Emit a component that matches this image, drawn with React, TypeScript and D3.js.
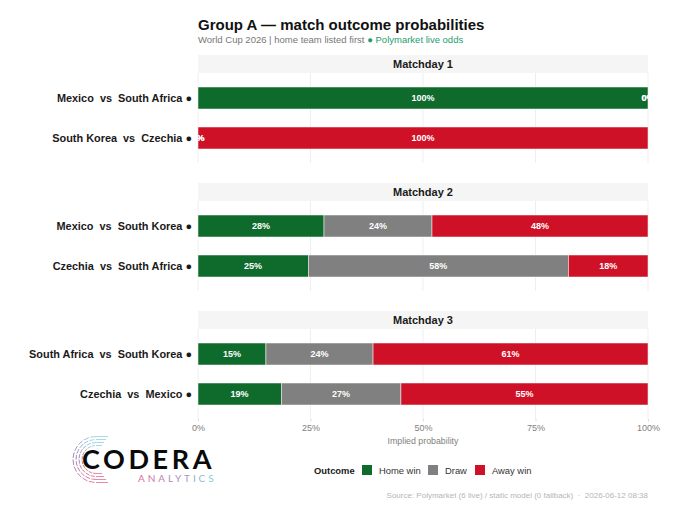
import React, { useEffect, useRef } from 'react';
import * as d3 from 'd3';

const FONT = '"Liberation Sans", Arial, sans-serif';

const matchdays = ['Matchday 1', 'Matchday 2', 'Matchday 3'];
const matches = [
  ['Mexico  vs  South Africa ●', 'South Korea  vs  Czechia ●'],
  ['Mexico  vs  South Korea ●', 'Czechia  vs  South Africa ●'],
  ['South Africa  vs  South Korea ●', 'Czechia  vs  Mexico ●'],
];
const homeWin = [[1, 0], [0.28, 0.245], [0.151, 0.185]];
const draw = [[0, 0], [0.24, 0.578], [0.238, 0.266]];
const awayWin = [[0, 1], [0.48, 0.177], [0.611, 0.549]];
const outcomes = ['Home win', 'Draw', 'Away win'];
const outcomeColors = ['#0f6b2c', '#808080', '#ce1126'];
const xTicks = [0, 0.25, 0.5, 0.75, 1];

const App: React.FC = () => {
  const svgRef = useRef<SVGSVGElement>(null);

  useEffect(() => {
    const svg = d3.select(svgRef.current);
    svg.selectAll('*').remove();
    svg.style('font-family', FONT);

    const left = 198;
    const right = 648;
    const stripH = 18;
    const panelH = 90;
    const panelTops = [73, 201, 329];

    const xScale = d3.scaleLinear().domain([0, 1]).range([left, right]);
    const colorScale = d3.scaleOrdinal<string, string>().domain(outcomes).range(outcomeColors);

    // Title
    svg.append('text').attr('x', left).attr('y', 30)
      .style('font-size', '15px').style('font-weight', 700).style('fill', '#111')
      .text('Group A — match outcome probabilities');
    const sub = svg.append('text').attr('x', left).attr('y', 43).style('font-size', '9.5px');
    sub.append('tspan').style('fill', '#777').text('World Cup 2026 | home team listed first ');
    sub.append('tspan').style('fill', '#1f9d6e').text('● Polymarket live odds');

    const defs = svg.append('defs');
    defs.append('clipPath').attr('id', 'panel-clip').append('rect')
      .attr('x', left).attr('y', 0).attr('width', right - left).attr('height', panelH);

    // Panels
    matchdays.forEach((day, p) => {
      const top = panelTops[p];
      svg.append('rect').attr('x', left).attr('y', top - stripH)
        .attr('width', right - left).attr('height', stripH).attr('fill', '#f5f5f5');
      svg.append('text').attr('x', (left + right) / 2).attr('y', top - 5)
        .attr('text-anchor', 'middle')
        .style('font-size', '11px').style('font-weight', 700).style('fill', '#1a1a1a')
        .text(day);

      const g = svg.append('g').attr('transform', `translate(0,${top})`);
      xTicks.forEach(t => {
        g.append('line').attr('x1', xScale(t)).attr('x2', xScale(t))
          .attr('y1', 0).attr('y2', panelH)
          .attr('stroke', '#ebebeb').attr('stroke-width', 0.8);
      });

      const yScale = d3.scaleBand<string>().domain(matches[p]).range([0, panelH])
        .paddingInner(0.45).paddingOuter(0.35);

      matches[p].forEach((name, i) => {
        const y = yScale(name) as number;
        const h = yScale.bandwidth();
        g.append('text').attr('x', left - 6).attr('y', y + h / 2 + 4)
          .attr('text-anchor', 'end')
          .style('white-space', 'pre')
          .style('font-size', '10.9px').style('font-weight', 700).style('fill', '#1a1a1a')
          .text(name);

        const values = [homeWin[p][i], draw[p][i], awayWin[p][i]];
        const clipped = g.append('g').attr('clip-path', 'url(#panel-clip)');
        let start = 0;
        values.forEach((v, k) => {
          clipped.append('rect')
            .attr('x', xScale(start)).attr('y', y)
            .attr('width', xScale(start + v) - xScale(start)).attr('height', h)
            .attr('fill', colorScale(outcomes[k]))
            .attr('stroke', '#fff').attr('stroke-width', 0.5);
          start += v;
        });
        // labels go on after all the rects, the 0% ones sit on a bar edge
        start = 0;
        values.forEach(v => {
          clipped.append('text')
            .attr('x', xScale(start + v / 2)).attr('y', y + h / 2 + 3.2)
            .attr('text-anchor', 'middle')
            .style('font-size', '9px').style('font-weight', 700).style('fill', '#fff')
            .text(`${Math.round(v * 100)}%`);
          start += v;
        });
      });
    });

    // X axis, only under the last panel
    const bottom = panelTops[2] + panelH;
    const axis = svg.append('g').attr('transform', `translate(0,${bottom})`)
      .call(d3.axisBottom(xScale).tickValues(xTicks).tickSize(2.5).tickPadding(3).tickFormat(d3.format('.0%') as any));
    axis.select('.domain').remove();
    axis.selectAll('line').attr('stroke', '#ddd');
    axis.selectAll('text').style('font-family', FONT).style('font-size', '9px').style('fill', '#808080');
    svg.append('text').attr('x', (left + right) / 2).attr('y', 444).attr('text-anchor', 'middle')
      .style('font-size', '8.8px').style('fill', '#808080').text('Implied probability');

    // Legend
    svg.append('text').attr('x', 314).attr('y', 474)
      .style('font-size', '9.4px').style('font-weight', 700).style('fill', '#1a1a1a').text('Outcome');
    const swatchX = [362, 428, 475];
    outcomes.forEach((o, i) => {
      svg.append('rect').attr('x', swatchX[i]).attr('y', 465).attr('width', 10).attr('height', 10)
        .attr('fill', colorScale(o));
      svg.append('text').attr('x', swatchX[i] + 17).attr('y', 474)
        .style('font-size', '9.4px').style('fill', '#333').text(o);
    });

    // Source
    svg.append('text').attr('x', right).attr('y', 498).attr('text-anchor', 'end')
      .style('white-space', 'pre')
      .style('font-size', '8px').style('fill', '#b5b5b5')
      .text('Source: Polymarket (6 live) / static model (0 fallback)  ·  2026-06-12 08:38');

    // Logo
    const logo = svg.append('g');
    const grad = defs.append('linearGradient').attr('id', 'analytics-grad')
      .attr('gradientUnits', 'userSpaceOnUse')
      .attr('x1', 138).attr('x2', 213).attr('y1', 0).attr('y2', 0);
    grad.append('stop').attr('offset', '0%').attr('stop-color', '#d9709a');
    grad.append('stop').attr('offset', '55%').attr('stop-color', '#a88fc0');
    grad.append('stop').attr('offset', '100%').attr('stop-color', '#7fd0dc');

    const logoColor = d3.scaleLinear<string>()
      .domain([0, 0.45, 1]).range(['#8fd3de', '#9a78b0', '#e0708f']);
    const cx = 96;
    const cy = 459.5;
    [23, 20, 17, 14].forEach((r, i) => {
      const steps = 10;
      for (let s = 0; s < steps; s++) {
        const a0 = -Math.PI * 0.5 - s * (Math.PI / steps);
        const a1 = a0 - (Math.PI / steps) * 0.78;
        const off = (i % 2) * 0.08;
        logo.append('line')
          .attr('x1', cx + r * Math.cos(a0 - off)).attr('y1', cy + r * Math.sin(a0 - off))
          .attr('x2', cx + r * Math.cos(a1 - off)).attr('y2', cy + r * Math.sin(a1 - off))
          .attr('stroke', logoColor(s / (steps - 1)))
          .attr('stroke-width', 0.9);
      }
      // circuit tails at the top and bottom of the C
      logo.append('line').attr('x1', cx).attr('x2', cx + 12 - i * 2)
        .attr('y1', cy - r).attr('y2', cy - r)
        .attr('stroke', logoColor(0)).attr('stroke-width', 0.8);
      logo.append('line').attr('x1', cx).attr('x2', cx + 12 - i * 2)
        .attr('y1', cy + r).attr('y2', cy + r)
        .attr('stroke', logoColor(1)).attr('stroke-width', 0.8);
    });
    logo.append('text').attr('x', 82).attr('y', 469)
      .style('font-family', 'Lato, sans-serif').style('font-size', '27px').style('font-weight', 700)
      .style('letter-spacing', '3.6px').style('fill', '#0a0a0a').text('CODERA');
    logo.append('text').attr('x', 138).attr('y', 481.5)
      .style('font-family', 'Lato, sans-serif').style('font-size', '10px').style('letter-spacing', '2.9px')
      .style('fill', 'url(#analytics-grad)').text('ANALYTICS');
  }, []);

  return (
    <svg
      ref={svgRef}
      width={680}
      height={510}
      style={{ position: 'absolute', left: 0, top: 0, background: '#fff' }}
    />
  );
};

export default App;
